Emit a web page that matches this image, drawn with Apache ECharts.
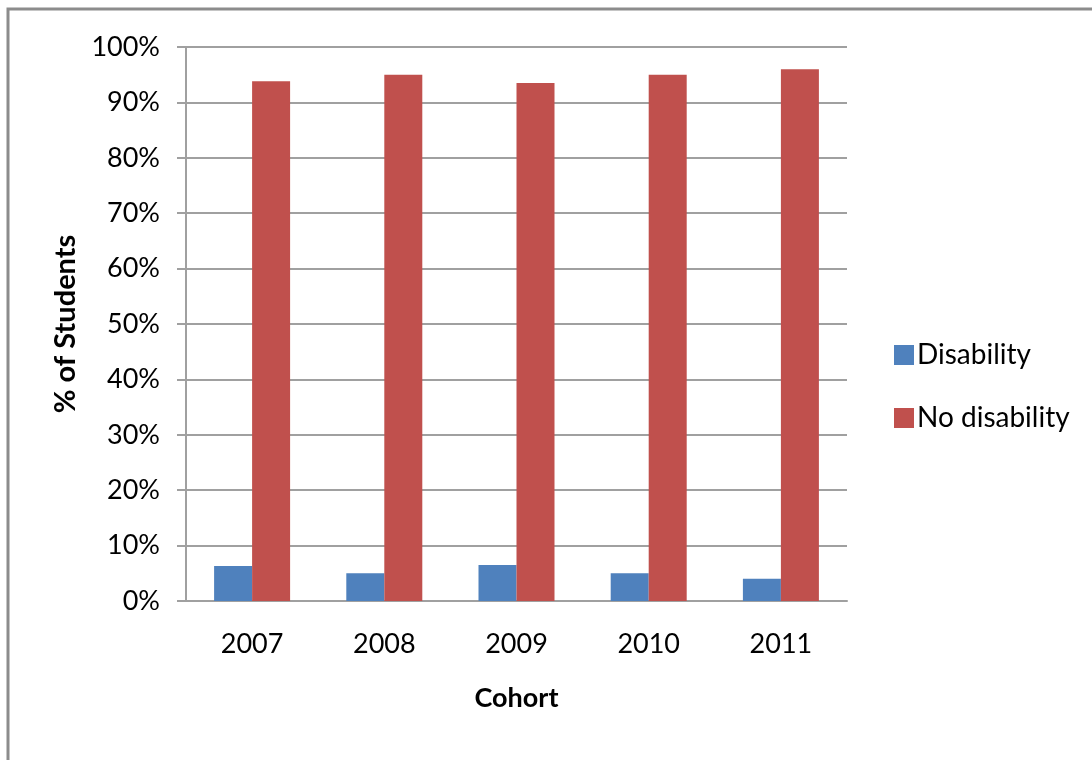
<!DOCTYPE html>
<html>
<head>
<meta charset="utf-8">
<script src="https://cdn.jsdelivr.net/npm/echarts@6/dist/echarts.min.js"></script>
<style>
html,body{margin:0;padding:0;background:#fff;}
#c{width:1092px;height:760px;}
</style>
</head>
<body>
<div id="c"></div>
<script>
var categories = ['2007', '2008', '2009', '2010', '2011'];
var disability = [6.3, 5.0, 6.5, 5.0, 4.0];
var noDisability = [93.8, 95.0, 93.5, 95.0, 96.0];
var yTicks = [0, 10, 20, 30, 40, 50, 60, 70, 80, 90, 100];

var font = 'Lato, "Open Sans", sans-serif';
var chart = echarts.init(document.getElementById('c'));
chart.setOption({
  animation: false,
  backgroundColor: '#fff',
  graphic: [{
    type: 'rect',
    shape: {x: 8, y: 9, width: 1200, height: 900},
    style: {fill: 'none', stroke: '#8c8c8c', lineWidth: 3},
    silent: true
  }],
  grid: {left: 186, top: 47, width: 661, height: 554, containLabel: false},
  legend: {
    orient: 'vertical',
    left: 889,
    top: 336,
    itemWidth: 20,
    itemHeight: 20,
    itemGap: 35,
    icon: 'rect',
    textStyle: {fontFamily: font, fontSize: 28, color: '#000', padding: [0, 0, 0, -2]},
    data: ['Disability', 'No disability']
  },
  xAxis: {
    type: 'category',
    data: categories,
    name: 'Cohort',
    nameLocation: 'middle',
    nameGap: 84,
    nameTextStyle: {fontFamily: font, fontSize: 27, fontWeight: 'bold', color: '#000'},
    axisLine: {lineStyle: {color: '#a0a0a0', width: 2}},
    axisTick: {show: false},
    axisLabel: {fontFamily: font, fontSize: 27, color: '#000', margin: 30}
  },
  yAxis: {
    type: 'value',
    min: 0,
    max: 100,
    interval: 10,
    name: '% of Students',
    nameLocation: 'middle',
    nameGap: 106,
    nameTextStyle: {fontFamily: font, fontSize: 29, fontWeight: 'bold', color: '#000'},
    axisLine: {show: true, lineStyle: {color: '#a0a0a0', width: 2}},
    axisTick: {show: true, length: 9, lineStyle: {color: '#a0a0a0', width: 2}},
    axisLabel: {
      fontFamily: font, fontSize: 27, color: '#000', margin: 26,
      formatter: function (v) { return yTicks.indexOf(v) >= 0 ? v + '%' : ''; }
    },
    splitLine: {lineStyle: {color: '#a0a0a0', width: 2}}
  },
  series: [{
    name: 'Disability',
    type: 'bar',
    data: disability,
    barWidth: 38,
    barGap: '0%',
    itemStyle: {color: '#4f81bd'}
  }, {
    name: 'No disability',
    type: 'bar',
    data: noDisability,
    barWidth: 38,
    barGap: '0%',
    itemStyle: {color: '#c0504d'}
  }]
});
</script>
</body>
</html>
